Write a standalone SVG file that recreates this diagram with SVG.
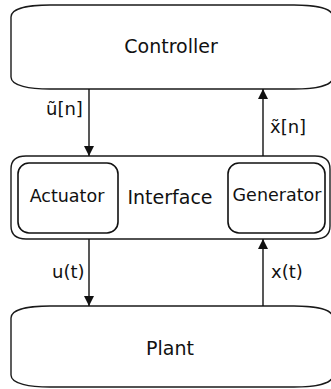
<svg xmlns="http://www.w3.org/2000/svg" width="331" height="389" viewBox="0 0 331 389">
  <style>
    .box { fill: #fff; stroke: #1a1a1a; stroke-width: 1.4; }
    .inner { fill: #fff; stroke: #111; stroke-width: 1.6; }
    .lbl { font-family: "DejaVu Sans", "Liberation Sans", sans-serif; font-size: 18px; fill: #111; }
    .big { font-size: 19px; }
    .mid { text-anchor: middle; }
    .wire { stroke: #111; stroke-width: 1.4; fill: none; }
  </style>
  <defs>
    <marker id="head" viewBox="0 0 10 10" refX="10" refY="5" markerWidth="10" markerHeight="10" markerUnits="userSpaceOnUse" orient="auto">
      <path d="M0,0 L10,5 L0,10 Z" fill="#111"/>
    </marker>
  </defs>
  <rect width="331" height="389" fill="#fff"/>

  <g id="controller">
    <path class="box" d="M50,5 H294 C314,5 333,8 333,17 V77 C333,86 314,89 294,89 H50 C30,89 11,86 11,77 V17 C11,8 30,5 50,5 Z"/>
    <text class="lbl big mid" x="171" y="53">Controller</text>
  </g>

  <g id="interface">
    <path class="box" d="M26,156 H315 C324,156 330,160 330,169 V226 C330,235 324,239 315,239 H26 C17,239 11,235 11,226 V169 C11,160 17,156 26,156 Z"/>
    <text class="lbl big mid" x="170" y="204">Interface</text>
  </g>

  <g id="actuator">
    <rect class="inner" x="18" y="163" width="100" height="70" rx="11" ry="11"/>
    <text class="lbl mid" x="67" y="202" style="font-size:17.5px">Actuator</text>
  </g>

  <g id="generator">
    <rect class="inner" x="228" y="163" width="97" height="70" rx="11" ry="11"/>
    <text class="lbl mid" x="277" y="201" style="font-size:17.5px">Generator</text>
  </g>

  <g id="plant">
    <path class="box" d="M50,306 H294 C314,306 333,309 333,318 V375 C333,384 314,387 294,387 H50 C30,387 11,384 11,375 V318 C11,309 30,306 50,306 Z"/>
    <text class="lbl big mid" x="170" y="355">Plant</text>
  </g>

  <g id="connectors">
    <line class="wire" x1="89" y1="89" x2="89" y2="156" marker-end="url(#head)"/>
    <line class="wire" x1="263" y1="156" x2="263" y2="89" marker-end="url(#head)"/>
    <line class="wire" x1="89" y1="239" x2="89" y2="306" marker-end="url(#head)"/>
    <line class="wire" x1="263" y1="306" x2="263" y2="239" marker-end="url(#head)"/>
    <text class="lbl" x="46" y="115">ũ[n]</text>
    <text class="lbl" x="270" y="133">x̃[n]</text>
    <text class="lbl" x="52" y="278">u(t)</text>
    <text class="lbl" x="271" y="278">x(t)</text>
  </g>
</svg>
